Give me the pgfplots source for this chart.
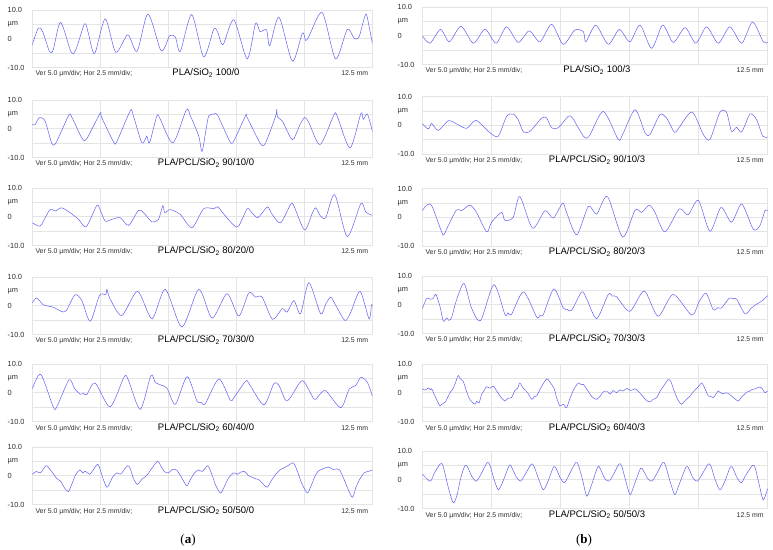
\documentclass[border=0pt]{standalone}
\usepackage{pgfplots}
\pgfplotsset{compat=1.18}
\usepackage{fontspec}
\setmainfont{Liberation Sans}
\newfontfamily\seriffont{Liberation Serif}
\definecolor{gridc}{RGB}{228,228,228}
\definecolor{tracec}{RGB}{95,95,245}
\definecolor{labc}{RGB}{45,45,45}
\pgfplotsset{
  panel/.style={scale only axis, height=57.5pt, anchor=north west,
    xmin=0, xmax=12.5, ymin=-10, ymax=10,
    xtick={2.5,5,7.5,10}, ytick={-5,0,5},
    xticklabels={}, yticklabels={}, major tick length=0pt,
    grid=major, grid style={draw=gridc, line width=0.6pt},
    axis line style={draw=gridc, line width=0.6pt}},
  trace/.style={draw=tracec, line width=0.5pt, smooth, tension=0.45, mark=none}
}
\tikzset{
  tl/.style={font=\fontsize{7.4}{8}\selectfont, text=labc, inner sep=0pt, anchor=west},
  sm/.style={font=\fontsize{6.9}{8}\selectfont, text=labc, inner sep=0pt},
  cp/.style={font=\fontsize{9.5}{11}\selectfont, inner sep=0pt, anchor=base}
}
\newcommand{\decor}[6]{%
  \pgfmathsetmacro\yF{#3-14.375}%
  \pgfmathsetmacro\yZ{#3-28.75}%
  \pgfmathsetmacro\yB{#3-57.5}%
  \pgfmathsetmacro\yT{#3-57.5-8.5}%
  \pgfmathsetmacro\xS{#1+3}%
  \pgfmathsetmacro\xE{#2-4}%
  \node[tl] at (#4pt,#3pt) {10.0};
  \node[tl] at (#4pt,\yF pt) {µm};
  \node[tl] at (#4pt,\yZ pt) {0};
  \node[tl] at (#4pt,\yB pt) {-10.0};
  \node[sm,anchor=base west] at (\xS pt,\yT pt) {Ver 5.0 µm/div; Hor 2.5 mm/div;};
  \node[sm,anchor=base east] at (\xE pt,\yT pt) {12.5 mm};
  \node[cp] at (#5pt,\yT pt) {#6};
}
\begin{document}
\begin{tikzpicture}
\path[use as bounding box] (0pt,0pt) rectangle (773pt,549pt);

% ---------------- Left column ----------------
% L1 PLA/SiO2 100/0
\begin{axis}[panel, at={(32.3pt,539pt)}, width=340pt]
\addplot[trace] coordinates {(0,-2.1)(0.22,3.7)(0.38,2.5)(0.63,-4.4)(0.77,-3.8)(1.04,5.7)(1.43,-4.7)(1.61,-3.6)(1.92,5.2)(2.06,2.0)(2.29,-5.2)(2.68,6.9)(3.07,-4.7)(3.51,1.4)(3.85,-4.4)(4.25,8.6)(4.71,-3.8)(4.89,-2.6)(5.05,1.1)(5.26,0.6)(5.44,-4.4)(5.86,8.4)(6.30,-6.3)(6.67,3.3)(6.82,2.2)(7.01,-2.1)(7.41,6.6)(7.90,-7.0)(8.21,5.4)(8.37,2.5)(8.61,3.1)(8.73,-2.4)(9.07,7.5)(9.56,-7.8)(9.93,2.0)(10.05,-0.6)(10.17,0.8)(10.66,9.1)(11.15,-7.0)(11.58,3.3)(11.83,0.2)(12.01,0.6)(12.26,8.6)(12.38,4.3)(12.5,-1.5)};
\end{axis}
\decor{32.3}{372.3}{539}{7.5}{206}{PLA/SiO\textsubscript{2} 100/0}

% L2 PLA/PCL/SiO2 90/10/0
\begin{axis}[panel, at={(32.3pt,449pt)}, width=340pt]
\addplot[trace] coordinates {(0,1.5)(0.1,1.4)(0.26,3.9)(0.47,2.7)(0.71,-4.9)(0.87,-4.9)(1.33,4.5)(1.45,4.1)(1.82,-3.2)(2.00,-3.5)(2.49,5.3)(2.55,3.9)(2.99,-4.6)(3.11,-4.4)(3.60,6.2)(3.70,5.0)(4.03,-4.9)(4.21,-2.6)(4.31,-4.9)(4.58,4.5)(4.70,3.4)(5.17,-4.9)(5.66,6.5)(5.81,4.5)(6.12,-2.6)(6.24,-7.9)(6.40,0.5)(6.49,4.5)(6.67,5.1)(6.82,4.6)(7.26,-4.4)(7.41,-4.2)(7.84,4.5)(7.90,3.9)(8.39,-5.2)(8.57,-5.0)(8.95,4.5)(8.98,6.8)(9.02,4.0)(9.19,2.7)(9.50,-3.2)(9.62,-3.4)(9.86,1.8)(10.02,3.9)(10.17,2.1)(10.58,-5.5)(11.09,4.8)(11.21,4.4)(11.68,-6.7)(12.08,5.3)(12.17,3.3)(12.32,5.1)(12.5,-0.8)};
\end{axis}
\decor{32.3}{372.3}{449}{7.5}{206}{PLA/PCL/SiO\textsubscript{2} 90/10/0}

% L3 80/20/0
\begin{axis}[panel, at={(32.3pt,361pt)}, width=340pt]
\addplot[trace] coordinates {(0,-2.1)(0.22,-3.2)(0.34,-2.7)(0.65,2.5)(0.84,2.0)(1.08,3.1)(1.39,1.4)(1.70,-0.9)(1.98,-3.5)(2.37,3.9)(2.49,2.5)(2.68,-1.5)(2.92,-0.9)(3.23,-0.3)(3.54,-3.0)(3.90,2.2)(4.09,1.4)(4.40,-1.8)(4.64,-0.9)(4.80,3.9)(4.87,1.4)(5.07,2.5)(5.44,0.8)(5.87,-3.8)(6.30,2.8)(6.67,2.8)(6.82,3.5)(6.98,1.6)(7.41,-3.0)(7.59,-3.2)(7.90,2.8)(8.02,2.0)(8.29,-0.3)(8.64,3.4)(8.82,0.8)(9.13,-2.1)(9.50,4.3)(9.62,3.7)(10.01,-4.6)(10.30,1.4)(10.42,3.1)(10.60,0.2)(10.79,-0.3)(11.12,7.7)(11.58,-6.9)(12.08,4.6)(12.26,1.6)(12.5,0.5)};
\end{axis}
\decor{32.3}{372.3}{361}{7.5}{206}{PLA/PCL/SiO\textsubscript{2} 80/20/0}

% L4 70/30/0
\begin{axis}[panel, at={(32.3pt,272pt)}, width=340pt]
\addplot[trace] coordinates {(0,1.0)(0.16,2.7)(0.41,0.3)(0.77,-0.5)(1.08,-2.0)(1.25,-1.7)(1.57,3.8)(1.82,1.8)(2.13,-5.4)(2.47,3.6)(2.70,3.9)(2.74,5.7)(2.86,2.4)(3.29,-3.4)(3.87,5.0)(4.40,-4.5)(4.89,5.7)(5.50,-7.4)(6.12,5.7)(6.61,-4.3)(7.16,4.2)(7.59,-3.6)(7.96,4.5)(8.21,3.0)(8.45,3.0)(8.83,-4.7)(9.19,-1.0)(9.37,-2.2)(9.62,1.8)(9.86,-2.8)(10.17,8.0)(10.60,-2.8)(10.79,0.7)(10.97,3.0)(11.09,1.3)(11.49,-5.1)(11.71,-2.2)(12.05,5.0)(12.38,-4.5)(12.47,0.3)(12.5,0.1)};
\end{axis}
\decor{32.3}{372.3}{272}{7.5}{206}{PLA/PCL/SiO\textsubscript{2} 70/30/0}

% L5 60/40/0
\begin{axis}[panel, at={(32.3pt,185pt)}, width=340pt]
\addplot[trace] coordinates {(0,1.3)(0.31,6.4)(0.77,-4.9)(0.90,-4.9)(1.35,4.5)(1.55,1.5)(1.76,-0.5)(1.88,-0.2)(2.00,-0.7)(2.31,3.4)(2.86,-4.9)(3.38,5.6)(3.54,4.2)(3.97,-5.8)(4.36,6.0)(4.52,3.6)(4.70,2.8)(4.95,1.6)(5.26,-4.0)(5.69,5.6)(6.05,-2.8)(6.20,-3.3)(6.36,-3.8)(6.86,4.8)(7.28,-2.6)(7.41,-1.7)(7.84,4.0)(7.96,3.3)(8.51,-4.2)(8.88,3.1)(9.07,2.5)(9.31,-2.6)(9.49,-1.7)(9.93,4.2)(10.36,-2.2)(10.55,-0.8)(10.79,0.7)(11.34,-5.2)(11.65,1.3)(11.89,2.5)(12.08,5.4)(12.32,3.6)(12.5,-1.1)};
\end{axis}
\decor{32.3}{372.3}{185}{7.5}{206}{PLA/PCL/SiO\textsubscript{2} 60/40/0}

% L6 50/50/0
\begin{axis}[panel, at={(32.3pt,102pt)}, width=340pt]
\addplot[trace] coordinates {(0,0.5)(0.15,1.5)(0.3,1.0)(0.5,3.5)(0.6,2.8)(0.75,1.0)(0.9,-1.0)(1.05,-2.0)(1.2,-4.5)(1.33,-5.5)(1.45,-3.0)(1.6,0.5)(1.75,2.0)(1.85,1.0)(1.95,1.6)(2.1,0.5)(2.2,1.5)(2.4,4.0)(2.5,2.0)(2.62,-1.5)(2.74,-4.0)(2.85,-2.5)(2.95,-0.5)(3.1,1.0)(3.25,0.6)(3.5,3.5)(3.6,2.5)(3.72,-1.0)(3.85,-3.0)(3.95,-2.2)(4.05,-1.0)(4.2,0.0)(4.35,2.0)(4.6,5.0)(4.72,3.5)(4.85,1.5)(5.0,1.0)(5.15,2.2)(5.3,2.0)(5.45,0.0)(5.6,-2.5)(5.69,-3.5)(5.8,-1.5)(5.95,0.8)(6.1,2.0)(6.25,1.5)(6.45,3.5)(6.6,0.5)(6.75,-3.5)(6.92,-6.0)(7.05,-4.0)(7.2,-1.0)(7.4,1.0)(7.55,0.5)(7.65,1.2)(7.8,1.5)(7.95,0.0)(8.1,-0.6)(8.2,-1.0)(8.35,-1.5)(8.5,-3.0)(8.64,-4.0)(8.8,-1.5)(8.95,0.5)(9.1,2.0)(9.3,3.0)(9.45,3.8)(9.6,4.5)(9.75,1.5)(9.9,-2.5)(10.11,-6.0)(10.25,-3.5)(10.38,-0.5)(10.5,1.5)(10.7,2.5)(10.9,3.0)(11.05,2.2)(11.2,2.4)(11.3,2.0)(11.45,-1.0)(11.6,-4.5)(11.77,-7.5)(11.9,-4.0)(12.05,-1.0)(12.2,1.0)(12.35,1.5)(12.5,2.0)};
\end{axis}
\decor{32.3}{372.3}{102}{7.5}{206}{PLA/PCL/SiO\textsubscript{2} 50/50/0}

% ---------------- Right column ----------------
% R1 PLA/SiO2 100/3
\begin{axis}[panel, at={(422.3pt,542pt)}, width=345.4pt]
\addplot[trace] coordinates {(0,0)(0.28,-2.6)(0.66,2.2)(0.98,-2.1)(1.40,3.3)(1.85,-2.6)(2.27,2.3)(2.67,-2.6)(3.05,3.1)(3.47,-2.3)(3.87,1.7)(4.26,-2.1)(4.68,4.0)(5.10,-3.0)(5.52,2.0)(5.83,1.4)(5.92,-2.1)(6.28,3.7)(6.73,-3.0)(7.13,2.2)(7.51,-2.1)(7.88,3.7)(8.30,-4.4)(8.70,3.7)(9.08,-2.3)(9.51,2.8)(9.90,-2.6)(10.29,3.1)(10.71,-2.6)(11.13,3.1)(11.56,-2.6)(11.95,4.8)(12.34,-2.1)(12.5,-2.3)};
\end{axis}
\decor{422.3}{767.7}{542}{397.5}{597}{PLA/SiO\textsubscript{2} 100/3}

% R2 90/10/3
\begin{axis}[panel, at={(422.3pt,452.5pt)}, width=345.4pt]
\addplot[trace] coordinates {(0,0.5)(0.22,-1.3)(0.34,0.6)(0.58,-1.8)(0.94,1.6)(1.18,0.8)(1.60,-1.1)(1.94,1.7)(2.45,-2.6)(2.75,-3.8)(3.05,3.1)(3.29,3.9)(3.47,1.9)(3.66,-2.3)(3.90,-2.1)(4.32,2.5)(4.50,2.5)(4.68,-0.9)(4.92,-0.9)(5.28,3.1)(5.44,2.5)(5.83,-3.8)(6.04,-3.8)(6.55,4.8)(7.09,-4.9)(7.25,-3.2)(7.70,5.4)(8.06,-2.6)(8.24,-3.2)(8.60,3.7)(8.84,2.5)(9.08,-1.8)(9.20,-2.1)(9.75,4.6)(10.17,-3.2)(10.41,-4.9)(10.77,4.5)(11.01,4.5)(11.19,-2.1)(11.37,-0.7)(11.56,-2.3)(11.86,3.9)(12.10,1.9)(12.32,-3.8)(12.5,-4.1)};
\end{axis}
\decor{422.3}{767.7}{452.5}{397.5}{597}{PLA/PCL/SiO\textsubscript{2} 90/10/3}

% R3 80/20/3
\begin{axis}[panel, at={(422.3pt,360.5pt)}, width=345.4pt]
\addplot[trace] coordinates {(0,2.3)(0.16,4.2)(0.34,4.0)(0.70,-5.1)(0.78,-6.1)(0.94,-2.9)(1.24,2.6)(1.42,2.3)(1.72,4.2)(1.96,1.7)(2.33,-5.1)(2.51,-1.7)(2.87,1.7)(2.99,-1.1)(3.29,0)(3.53,7.2)(3.99,-3.8)(4.44,2.3)(4.74,-0.3)(5.08,4.9)(5.22,1.7)(5.59,-6.1)(6.01,3.8)(6.31,1.1)(6.70,7.2)(7.25,-6.9)(7.70,2.5)(7.94,1.7)(8.21,4.2)(8.42,1.7)(8.78,-5.1)(9.30,2.9)(9.62,0.8)(9.99,5.9)(10.41,-4.9)(10.81,3.4)(11.19,-1.7)(11.56,4.6)(11.98,-4.2)(12.22,-2.9)(12.40,2.3)(12.5,2.3)};
\end{axis}
\decor{422.3}{767.7}{360.5}{397.5}{597}{PLA/PCL/SiO\textsubscript{2} 80/20/3}

% R4 70/30/3
\begin{axis}[panel, at={(422.3pt,273pt)}, width=345.4pt]
\addplot[trace] coordinates {(0,-1.4)(0.16,2.3)(0.28,1.9)(0.40,2.3)(0.49,3.6)(0.64,-0.6)(0.76,-5.7)(0.88,-4.6)(0.96,-5.4)(1.06,-4.5)(1.24,1.7)(1.51,7.4)(1.78,-1.1)(2.11,-5.5)(2.59,7.0)(2.99,-3.4)(3.10,-2.8)(3.23,-3.3)(3.66,4.5)(4.14,-4.3)(4.26,-3.6)(4.38,-3.4)(4.76,5.5)(5.10,-1.1)(5.25,-1.6)(5.40,-2.0)(5.77,4.5)(5.95,2.0)(6.31,-4.8)(6.73,3.6)(6.88,3.0)(7.03,2.8)(7.51,-2.3)(8.03,4.8)(8.53,-4.0)(9.08,3.6)(9.75,-3.6)(10.02,1.1)(10.27,4.0)(10.53,-1.7)(10.70,-1.0)(10.83,-1.1)(11.11,2.3)(11.25,2.0)(11.37,2.0)(11.68,-3.2)(11.90,-1.2)(12.10,0.2)(12.22,0.9)(12.34,1.7)(12.5,3.2)};
\end{axis}
\decor{422.3}{767.7}{273}{397.5}{597}{PLA/PCL/SiO\textsubscript{2} 70/30/3}

% R5 60/40/3
\begin{axis}[panel, at={(422.3pt,185pt)}, width=345.4pt]
\addplot[trace] coordinates {(0,1.4)(0.1,0.9)(0.22,1.7)(0.3,1.0)(0.34,1.4)(0.45,-1.0)(0.55,-3.0)(0.64,-4.6)(0.72,-3.9)(0.82,-3.4)(0.9,-2.0)(1.00,0)(1.1,1.2)(1.2,3.5)(1.30,6.0)(1.38,4.8)(1.48,4.0)(1.6,0.5)(1.7,-2.0)(1.8,-3.2)(1.91,-4.0)(1.97,-2.9)(2.05,-3.6)(2.15,-0.5)(2.25,1.0)(2.33,2.1)(2.45,1.6)(2.57,2.3)(2.7,0.5)(2.85,-1.6)(2.99,-2.9)(3.1,-1.9)(3.23,-1.7)(3.35,0.8)(3.45,1.6)(3.53,3.4)(3.65,1.6)(3.8,0.2)(3.96,-2.3)(4.05,-1.4)(4.14,-1.1)(4.3,1.9)(4.50,4.8)(4.6,3.9)(4.76,1.7)(4.87,-2.0)(4.98,-4.6)(5.1,-4.0)(5.22,-5.2)(5.35,-1.8)(5.5,1.5)(5.65,3.4)(5.75,2.8)(5.83,2.9)(6.0,0.5)(6.15,-1.5)(6.31,-2.3)(6.45,-1.0)(6.55,0.3)(6.67,0.6)(6.8,-0.5)(6.9,0.8)(7.03,0)(7.15,1.0)(7.27,0.6)(7.4,1.5)(7.55,0.8)(7.70,1.4)(7.85,0.2)(8.0,-1.5)(8.1,-2.6)(8.24,-3.2)(8.35,-2.3)(8.48,-1.7)(8.6,0.5)(8.75,2.6)(8.90,4.6)(9.0,3.8)(9.1,1.0)(9.25,-2.5)(9.38,-4.0)(9.5,-2.8)(9.69,-1.1)(9.85,0.8)(10.0,2.2)(10.11,3.4)(10.2,2.0)(10.35,-1.1)(10.45,-1.4)(10.53,-1.7)(10.62,-0.6)(10.71,0.6)(10.85,-0.4)(11.01,0)(11.15,-0.8)(11.3,-2.0)(11.44,-2.9)(11.55,-1.5)(11.65,-0.6)(11.74,0.2)(11.85,0.6)(11.92,1.1)(12.05,1.4)(12.22,2.0)(12.32,1.2)(12.40,0)(12.5,0.6)};
\end{axis}
\decor{422.3}{767.7}{185}{397.5}{597}{PLA/PCL/SiO\textsubscript{2} 60/40/3}

% R6 50/50/3
\begin{axis}[panel, at={(422.3pt,98pt)}, width=345.4pt]
\addplot[trace] coordinates {(0,2.0)(0.15,0.5)(0.3,-0.5)(0.45,2.5)(0.65,5.5)(0.75,4.8)(0.95,-3.0)(1.12,-8.0)(1.25,-5.5)(1.4,1.0)(1.55,5.0)(1.65,4.2)(1.8,1.0)(1.95,-0.5)(2.1,1.5)(2.35,6.0)(2.45,5.0)(2.6,0.0)(2.75,-3.5)(2.9,-1.0)(3.15,5.0)(3.25,4.0)(3.4,1.0)(3.55,-0.5)(3.7,1.5)(3.95,5.5)(4.05,4.5)(4.2,0.5)(4.38,-3.5)(4.55,-0.5)(4.75,4.5)(4.85,3.8)(5.0,0.5)(5.15,-1.0)(5.3,1.5)(5.55,6.0)(5.65,5.0)(5.8,0.0)(5.95,-5.7)(6.1,-2.5)(6.35,4.5)(6.45,3.6)(6.6,0.5)(6.75,-0.5)(6.9,1.5)(7.12,5.5)(7.22,4.6)(7.38,-1.0)(7.52,-5.2)(7.68,-1.5)(7.9,4.0)(8.0,3.2)(8.15,0.5)(8.3,-0.5)(8.45,1.5)(8.7,6.0)(8.8,5.0)(8.98,-1.0)(9.14,-5.2)(9.3,-1.5)(9.55,4.5)(9.65,3.8)(9.8,0.5)(9.95,-0.5)(10.1,1.5)(10.35,5.5)(10.45,4.6)(10.6,0.0)(10.77,-3.5)(10.95,-0.5)(11.15,4.5)(11.25,3.8)(11.4,0.5)(11.55,-1.0)(11.7,1.5)(11.95,5.0)(12.05,4.0)(12.2,-2.0)(12.34,-7.0)(12.5,-3.0)};
\end{axis}
\decor{422.3}{767.7}{98}{397.5}{597}{PLA/PCL/SiO\textsubscript{2} 50/50/3}

\node[font=\seriffont\fontsize{13}{15}\selectfont] at (188pt,9pt) {(\textbf{a})};
\node[font=\seriffont\fontsize{13}{15}\selectfont] at (584pt,9pt) {(\textbf{b})};
\end{tikzpicture}
\end{document}
